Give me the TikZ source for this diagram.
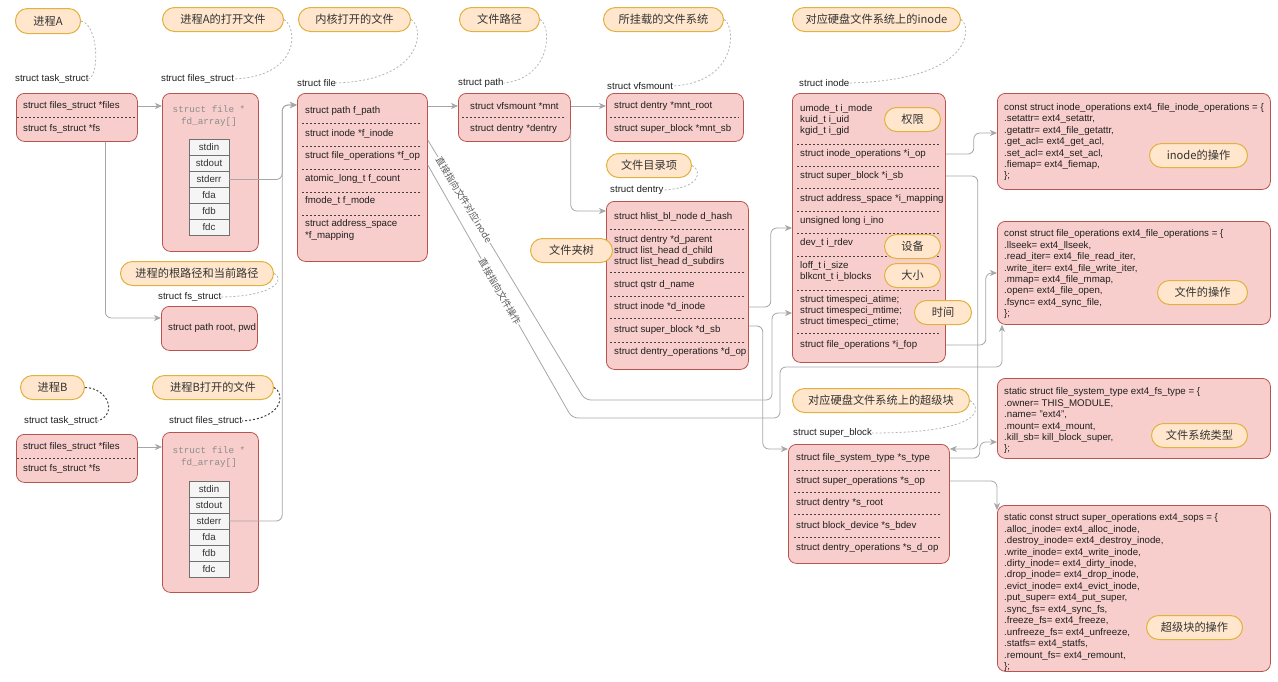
\documentclass[tikz,border=0pt]{standalone}
\usepackage{fontspec}
\setmainfont{Liberation Sans}
\setmonofont{Liberation Mono}
\newfontfamily\cjk{Noto Sans CJK SC}
\usetikzlibrary{arrows.meta,calc}
\definecolor{boxfill}{HTML}{F8CECC}
\definecolor{boxline}{HTML}{B85450}
\definecolor{pillfill}{HTML}{FFE6CC}
\definecolor{pillline}{HTML}{E2B23E}
\definecolor{wirec}{HTML}{A6A6A6}
\definecolor{notec}{HTML}{B3B3B3}
\definecolor{cellfill}{HTML}{F5F5F5}
\definecolor{cellline}{HTML}{707070}
\newcommand\rf{\fontsize{9.7}{11.3}\selectfont}
\newcommand\cf{\fontsize{9.7}{11.45}\selectfont}
\begin{document}
\begin{tikzpicture}[x=1pt,y=-1pt,
  box/.style={draw=boxline,fill=boxfill,rounded corners=8pt,line width=0.8pt,anchor=north west,inner sep=0pt},
  pill/.style={draw=pillline,fill=pillfill,rounded corners=12pt,line width=1pt,anchor=north west,inner sep=0pt,font=\cjk\fontsize{11.2}{12}\selectfont,text=black!80},
  row/.style={anchor=west,inner sep=0pt,font=\rf,text=black!88,align=left},
  lbl/.style={anchor=west,inner sep=0pt,font=\rf,text=black!88},
  code/.style={anchor=north west,inner sep=0pt,font=\cf,align=left,text=black!88},
  sep/.style={draw=black!75,line width=0.7pt,dash pattern=on 2.2pt off 1.8pt},
  wire/.style={draw=wirec,line width=0.8pt,rounded corners=6pt},
  arr/.style={wire,-{Stealth[length=7pt,width=6pt,inset=2pt]}},
  note/.style={draw=notec,line width=0.8pt,dash pattern=on 2pt off 2pt},
  noteB/.style={draw=black!75,line width=1pt,dash pattern=on 2pt off 2pt},
  cell/.style={draw=cellline,fill=cellfill,minimum width=40pt,minimum height=16pt,inner sep=0pt,font=\rf,text=black!80},
  mono/.style={inner sep=0pt,font=\ttfamily\fontsize{9.3}{11.5}\selectfont,text=black!45,align=center},
  tag/.style={inner sep=0.5pt,fill=white,font=\cjk\fontsize{9.3}{10}\selectfont,text=black!65,sloped}
]
\useasboundingbox (0,0) rectangle (1278,681);

% ---------- process A ----------
\node[pill,minimum width=65pt,minimum height=25pt] (pA) at (15,8) {进程A};
\node[lbl] (ltA) at (15,79) {struct task\_struct};
\draw[note] (pA.east) .. controls (98,24) and (100,74) .. (ltA.east);
\node[box,minimum width=121pt,minimum height=48pt] (tA) at (16,93) {};
\node[row] (tA1) at (23,106) {struct files\_struct *files};
\node[row] (tA2) at (23,129) {struct fs\_struct *fs};
\draw[sep] (17,117) -- (136,117);

\node[pill,minimum width=121pt,minimum height=24pt] (pfA) at (162,7) {进程A的打开文件};
\node[lbl] (lfA) at (161,79) {struct files\_struct};
\draw[note] (pfA.east) .. controls (298,28) and (300,76) .. (lfA.east);
\node[box,minimum width=96pt,minimum height=158pt] (fA) at (162,93) {};
\node[mono] (mA) at (209,116) {struct file *\\fd\_array[]};
\foreach \t [count=\i] in {stdin,stdout,stderr,fda,fdb,fdc}
  \node[cell] (cA\i) at (209,131.5+16*\i) {\t};
\draw[arr] (tA.east |- tA1) -- (fA.west |- tA1);

\node[pill,minimum width=153pt,minimum height=24pt] (pfs) at (120,261) {进程的根路径和当前路径};
\node[lbl] (lfs) at (158,297) {struct fs\_struct};
\draw[note] (pfs.east) .. controls (284,277) and (280,296) .. (lfs.east);
\node[box,minimum width=96pt,minimum height=44pt] (fsb) at (161,306) {};
\node[row] (fsb1) at (168,328) {struct path root, pwd};
\draw[arr] ($(tA.south)+(28.5,0)$) |- (fsb.west |- 0,318);

% ---------- process B ----------
\node[pill,minimum width=64pt,minimum height=24pt] (pB) at (20,375) {进程B};
\node[lbl] (ltB) at (24,421) {struct task\_struct};
\draw[noteB] (pB.east) .. controls (108,388) and (118,414) .. (ltB.east);
\node[box,minimum width=121pt,minimum height=48pt] (tB) at (16,434) {};
\node[row] (tB1) at (23,447) {struct files\_struct *files};
\node[row] (tB2) at (23,469) {struct fs\_struct *fs};
\draw[sep] (17,458) -- (136,458);

\node[pill,minimum width=121pt,minimum height=24pt] (pfB) at (152,375) {进程B打开的文件};
\node[lbl] (lfB) at (169,421) {struct files\_struct};
\draw[noteB] (pfB.east) .. controls (284,392) and (286,418) .. (lfB.east);
\node[box,minimum width=96pt,minimum height=160pt] (fB) at (162,432) {};
\node[mono] (mB) at (209,457) {struct file *\\fd\_array[]};
\foreach \t [count=\i] in {stdin,stdout,stderr,fda,fdb,fdc}
  \node[cell] (cB\i) at (209,473+16*\i) {\t};
\draw[arr] (tB.east |- tB1) -- (fB.west |- tB1);

% ---------- struct file ----------
\node[pill,minimum width=112pt,minimum height=24pt] (pfile) at (298,7) {内核打开的文件};
\node[lbl] (lfile) at (297,83) {struct file};
\draw[note] (pfile.east) .. controls (424,26) and (426,80) .. (lfile.east);
\node[box,minimum width=130pt,minimum height=168pt] (file) at (297,93) {};
\node[row] (file1) at (305,111) {struct path f\_path};
\node[row] (file2) at (305,134) {struct inode *f\_inode};
\node[row] (file3) at (305,156) {struct file\_operations *f\_op};
\node[row] (file4) at (305,179) {atomic\_long\_t f\_count};
\node[row] (file5) at (305,201) {fmode\_t f\_mode};
\node[row] (file6) at (305,230) {struct address\_space\\*f\_mapping};
\foreach \y in {123,146,169,192,215} \draw[sep] (302,\y) -- (422,\y);

\draw[arr] (cA3.east) -- ++(53,0) |- (file.west |- 0,105);
\draw[arr] (cB3.east) -- ++(53,0) |- (file.west |- 0,105);

% ---------- struct path ----------
\node[pill,minimum width=80pt,minimum height=24pt] (ppath) at (459,7) {文件路径};
\node[lbl] (lpath) at (458,83) {struct path};
\draw[note] (ppath.east) .. controls (552,26) and (552,78) .. (lpath.east);
\node[box,minimum width=112pt,minimum height=48pt] (path) at (458,93) {};
\node[row] (path1) at (470,106) {struct vfsmount *mnt};
\node[row] (path2) at (470,129) {struct dentry *dentry};
\draw[sep] (462,117) -- (566,117);
\draw[arr] (file.east |- path1) -- (path.west |- path1);

% ---------- vfsmount ----------
\node[pill,minimum width=120pt,minimum height=24pt] (pvfs) at (603,7) {所挂载的文件系统};
\node[lbl] (lvfs) at (607,86) {struct vfsmount};
\draw[note] (pvfs.east) .. controls (736,26) and (738,82) .. (lvfs.east);
\node[box,minimum width=137pt,minimum height=48pt] (vfs) at (606,93) {};
\node[row] (vfs1) at (614,106) {struct dentry *mnt\_root};
\node[row] (vfs2) at (614,129) {struct super\_block *mnt\_sb};
\draw[sep] (610,117) -- (739,117);
\draw[arr] (path.east |- path1) -- (vfs.west |- path1);

% ---------- dentry ----------
\node[pill,minimum width=85pt,minimum height=24pt] (pden) at (606,153) {文件目录项};
\node[lbl] (lden) at (610,190) {struct dentry};
\draw[note] (pden.east) .. controls (702,170) and (702,188) .. (lden.east);
\node[box,minimum width=142pt,minimum height=168pt] (den) at (606,201) {};
\node[row] (den1) at (614,217) {struct hlist\_bl\_node d\_hash};
\node[row] (den2) at (614,251) {struct dentry *d\_parent\\struct list\_head d\_child\\struct list\_head d\_subdirs};
\node[row] (den3) at (614,285) {struct qstr d\_name};
\node[row] (den4) at (614,307) {struct inode *d\_inode};
\node[row] (den5) at (614,330) {struct super\_block *d\_sb};
\node[row] (den6) at (614,352) {struct dentry\_operations *d\_op};
\foreach \y in {229,272,296,318,342} \draw[sep] (610,\y) -- (744,\y);
\node[pill,minimum width=82pt,minimum height=24pt] (ptree) at (530,238) {文件夹树};
\draw[arr] (path.east |- path2) |- (den.west |- 0,211);

% ---------- inode ----------
\node[pill,minimum width=168pt,minimum height=24pt] (pino) at (792,7) {对应硬盘文件系统上的inode};
\node[lbl] (lino) at (799,83) {struct inode};
\draw[note] (pino.east) .. controls (972,26) and (974,80) .. (lino.east);
\node[box,minimum width=153pt,minimum height=269pt] (ino) at (792,93) {};
\node[row] (ino1) at (800,120) {umode\_t i\_mode\\kuid\_t i\_uid\\kgid\_t i\_gid};
\node[row] (ino2) at (800,154) {struct inode\_operations *i\_op};
\node[row] (ino3) at (800,176) {struct super\_block *i\_sb};
\node[row] (ino4) at (800,199) {struct address\_space *i\_mapping};
\node[row] (ino5) at (800,221) {unsigned long i\_ino};
\node[row] (ino6) at (800,243) {dev\_t i\_rdev};
\node[row] (ino7) at (800,271.5) {loff\_t i\_size\\blkcnt\_t i\_blocks};
\node[row] (ino8) at (800,311) {struct timespeci\_atime;\\struct timespeci\_mtime;\\struct timespeci\_ctime;};
\node[row] (ino9) at (800,345) {struct file\_operations *i\_fop};
\foreach \y in {144,166,188,211,233,256,290,333} \draw[sep] (797,\y) -- (940,\y);
\node[pill,minimum width=56pt,minimum height=24pt] (pperm) at (884,107) {权限};
\node[pill,minimum width=56pt,minimum height=24pt] (pdev) at (884,234) {设备};
\node[pill,minimum width=56pt,minimum height=24pt] (psize) at (884,263) {大小};
\node[pill,minimum width=57pt,minimum height=24pt] (ptime) at (914,300) {时间};

% ---------- super_block ----------
\node[pill,minimum width=177pt,minimum height=24pt] (psb) at (792,388) {对应硬盘文件系统上的超级块};
\node[lbl] (lsb) at (793,433) {struct super\_block};
\draw[note] (psb.east) .. controls (984,410) and (978,433) .. (lsb.east);
\node[box,minimum width=161pt,minimum height=119pt] (sb) at (788,444) {};
\node[row] (sb1) at (796,458) {struct file\_system\_type *s\_type};
\node[row] (sb2) at (796,481) {struct super\_operations *s\_op};
\node[row] (sb3) at (796,503) {struct dentry *s\_root};
\node[row] (sb4) at (796,526) {struct block\_device *s\_bdev};
\node[row] (sb5) at (796,548) {struct dentry\_operations *s\_d\_op};
\foreach \y in {470,492,514,537} \draw[sep] (794,\y) -- (940,\y);

% ---------- ops boxes ----------
\node[box,minimum width=273pt,minimum height=96pt] (iops) at (997,93) {};
\node[code] (iopst) at (1004,103) {const struct inode\_operations ext4\_file\_inode\_operations = \{\\
.setattr= ext4\_setattr,\\
.getattr= ext4\_file\_getattr,\\
.get\_acl= ext4\_get\_acl,\\
.set\_acl= ext4\_set\_acl,\\
.fiemap= ext4\_fiemap,\\
\};};
\node[pill,minimum width=98pt,minimum height=24pt] (piops) at (1149,143) {inode的操作};

\node[box,minimum width=273pt,minimum height=103pt] (fops) at (997,221) {};
\node[code] (fopst) at (1004,229.5) {const struct file\_operations ext4\_file\_operations = \{\\
.llseek= ext4\_llseek,\\
.read\_iter= ext4\_file\_read\_iter,\\
.write\_iter= ext4\_file\_write\_iter,\\
.mmap= ext4\_file\_mmap,\\
.open= ext4\_file\_open,\\
.fsync= ext4\_sync\_file,\\
\};};
\node[pill,minimum width=90pt,minimum height=24pt] (pfops) at (1157,280) {文件的操作};

\node[box,minimum width=273pt,minimum height=80pt] (fst) at (997,378) {};
\node[code] (fstt) at (1004,387.5) {static struct file\_system\_type ext4\_fs\_type = \{\\
.owner= THIS\_MODULE,\\
.name= "ext4",\\
.mount= ext4\_mount,\\
.kill\_sb= kill\_block\_super,\\
\};};
\node[pill,minimum width=96pt,minimum height=24pt] (pfst) at (1151,423) {文件系统类型};

\node[box,minimum width=273pt,minimum height=166pt] (sops) at (997,505) {};
\node[code] (sopst) at (1004,513.5) {static const struct super\_operations ext4\_sops = \{\\
.alloc\_inode= ext4\_alloc\_inode,\\
.destroy\_inode= ext4\_destroy\_inode,\\
.write\_inode= ext4\_write\_inode,\\
.dirty\_inode= ext4\_dirty\_inode,\\
.drop\_inode= ext4\_drop\_inode,\\
.evict\_inode= ext4\_evict\_inode,\\
.put\_super= ext4\_put\_super,\\
.sync\_fs= ext4\_sync\_fs,\\
.freeze\_fs= ext4\_freeze,\\
.unfreeze\_fs= ext4\_unfreeze,\\
.statfs= ext4\_statfs,\\
.remount\_fs= ext4\_remount,\\
\};};
\node[pill,minimum width=96pt,minimum height=24pt] (psops) at (1146,615) {超级块的操作};

% ---------- connectors in the middle ----------
\draw[arr] (file.east |- 0,140) -- node[tag,pos=0.23]{直接指向文件对应inode} (585,400) -- (772,400) |- (ino.west |- 0,313);
\draw[arr] (file.east |- 0,165) -- node[tag,pos=0.5]{直接指向文件操作} (572,418) -- (780,418) -- (780,367) -| ($(fops.south west)+(5,0)$);
\draw[arr] (den.east |- den4) -- ++(22,0) |- (ino.west |- 0,228);
\draw[arr] (den.east |- 0,326) -- ++(14,0) |- (sb.west |- 0,449);
\draw[arr] (ino.east |- ino2) -- ++(28,0) |- (iops.west |- 0,133);
\draw[arr] (ino.east |- ino3) -- ++(32,0) |- (sb.east |- 0,449);
\draw[arr] (ino.east |- ino9) -- ++(40,0) |- (fops.west |- 0,273);
\draw[arr] (sb.east |- sb1) -- ++(30,0) |- (fst.west |- 0,442);
\draw[arr] (sb.east |- sb2) -| ($(sops.north west)+(0,5)$);
\end{tikzpicture}
\end{document}
